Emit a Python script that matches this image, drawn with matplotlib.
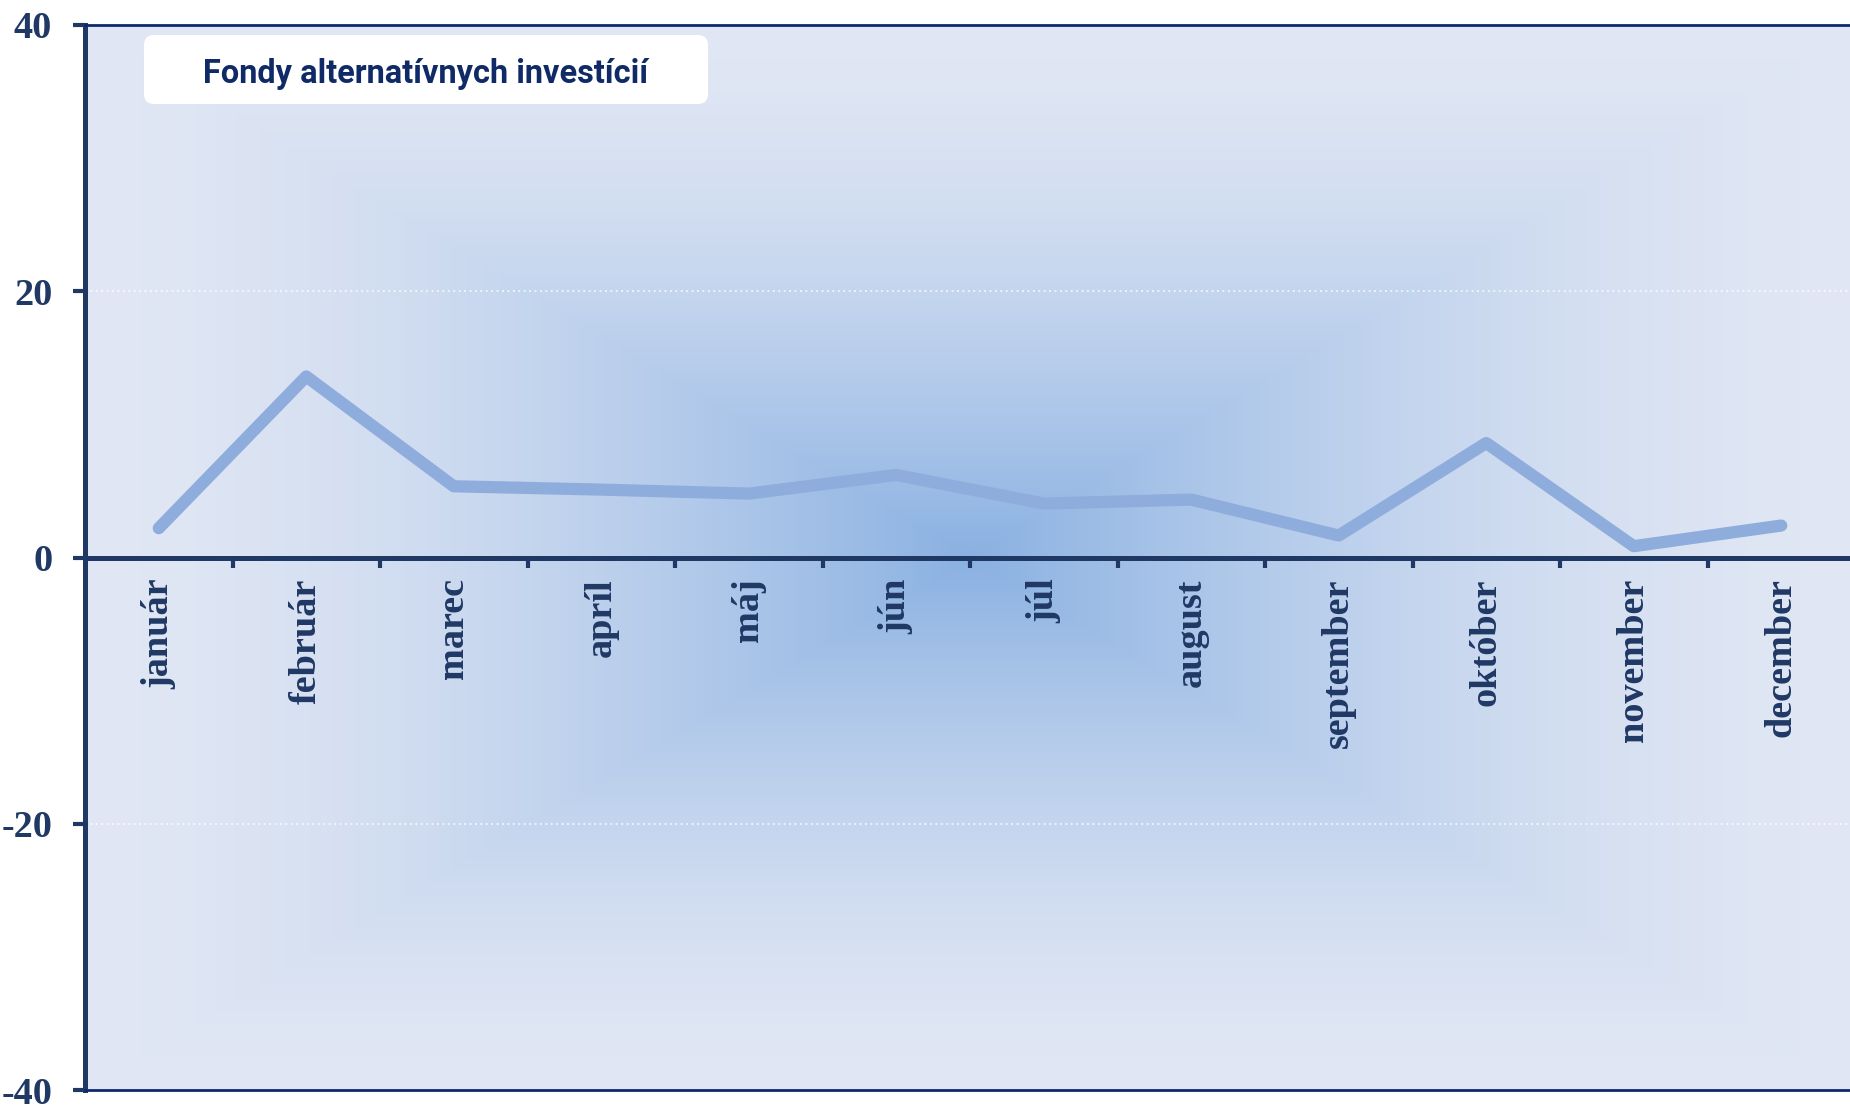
import numpy as np
import matplotlib
matplotlib.use("Agg")
import matplotlib.pyplot as plt
from matplotlib.patches import FancyBboxPatch
from matplotlib.colors import to_rgb

months = ["január", "február", "marec", "apríl", "máj", "jún", "júl",
          "august", "september", "október", "november", "december"]
values = [2.2, 13.6, 5.35, 5.1, 4.8, 6.2, 4.05, 4.35, 1.65, 8.6, 0.85, 2.4]
yticks = [-40, -20, 0, 20, 40]
panel_title = "Fondy alternatívnych investícií"

NAVY = "#1F3864"
DPI = 100
fig = plt.figure(figsize=(18.5, 11.05), dpi=DPI)
fig.patch.set_facecolor("white")

ax = fig.add_axes([85 / 1850, 15 / 1105, 1770 / 1850, 1065 / 1105])

# background rectangular path gradient
ny, nx = 400, 660
yy, xx = np.mgrid[-1:1:ny * 1j, -1:1:nx * 1j]
t = np.clip(np.maximum(np.abs(xx), np.abs(yy)), 0, 1)
w = (1 - t) ** 1.6
c_center = np.array(to_rgb("#8AB1E2"))
c_edge = np.array(to_rgb("#E1E7F4"))
img = c_edge[None, None, :] + (c_center - c_edge)[None, None, :] * w[..., None]
ax.imshow(img, extent=[0, 1, 0, 1], transform=ax.transAxes, aspect="auto",
          zorder=0, interpolation="bilinear")

x = np.arange(len(months))
for g in [-20, 20]:
    ax.axhline(g, color="white", lw=1.3, ls=(0, (1, 2)), alpha=0.8, zorder=1)

ax.plot(x, values, color="#8FADDC", lw=8.8, solid_capstyle="round",
        solid_joinstyle="round", zorder=3)

ax.set_xlim(-0.5, 11.5)
ax.set_ylim(-40, 40)

ax.spines["right"].set_visible(False)
ax.spines["top"].set_color("#10296B")
ax.spines["top"].set_linewidth(2.0)
ax.spines["left"].set_color(NAVY)
ax.spines["left"].set_linewidth(3.6)
ax.spines["bottom"].set_position(("data", 0))
ax.spines["bottom"].set_color(NAVY)
ax.spines["bottom"].set_linewidth(3.6)
ax.spines["bottom"].set_zorder(4)
ax.plot([0, 1], [0, 0], transform=ax.transAxes, color="#10296B", lw=2.0,
        clip_on=False, zorder=5)

ax.set_xticks(x)
ax.set_xticklabels(months, rotation=90, fontfamily="Liberation Serif",
                   fontweight="bold", fontsize=27.5, color=NAVY, va="top")
ax.set_xticks(x[:-1] + 0.5, minor=True)
ax.tick_params(axis="x", which="major", length=0, pad=15)
ax.tick_params(axis="x", which="minor", length=7.5, width=3, color=NAVY,
               direction="out")

ax.set_yticks(yticks)
ax.set_yticklabels([str(v) for v in yticks], fontfamily="Liberation Serif",
                   fontweight="bold", fontsize=27.5, color=NAVY)
ax.tick_params(axis="y", which="major", length=8.6, width=3, color=NAVY,
               direction="out", pad=15)

# panel title box
box = FancyBboxPatch((144, 1105 - 104), 564, 69, boxstyle="round,pad=0,rounding_size=10",
                     transform=None, facecolor="white", edgecolor="none", zorder=6)
fig.patches.append(box)
txt = fig.text(426 / 1850, 1 - 83 / 1105, panel_title, ha="center", va="baseline",
               fontsize=27, fontweight="bold", color="#0F2A66",
               family=["Roboto", "DejaVu Sans"], zorder=7)
fig.canvas.draw()
wpx = txt.get_window_extent().width
txt.set_fontsize(27 * 446 / wpx)

fig.savefig("out.png", dpi=DPI)
